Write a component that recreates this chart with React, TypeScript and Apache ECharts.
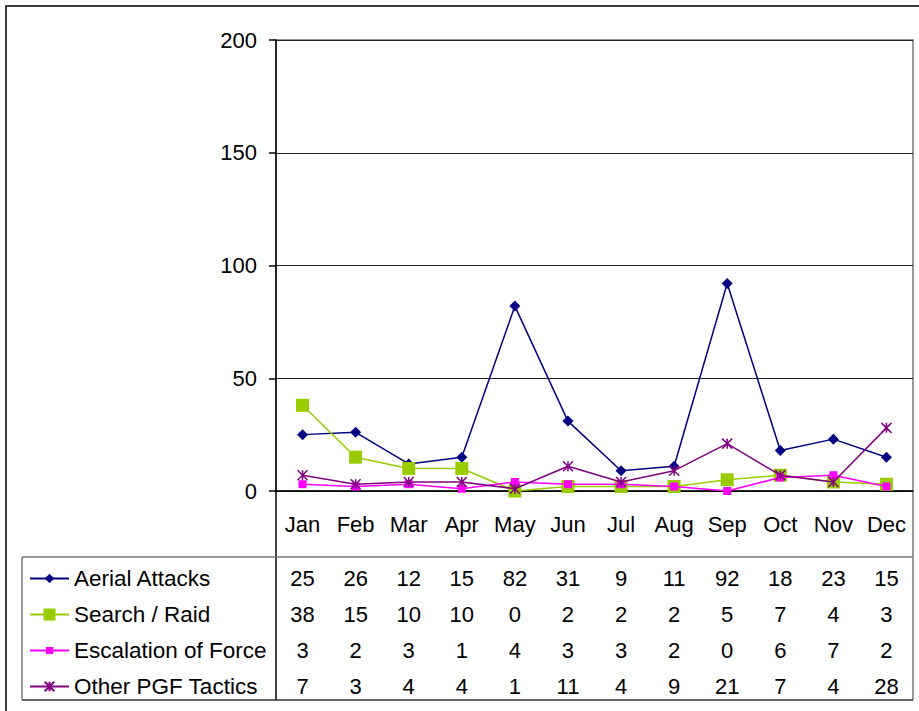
import React, { useEffect, useRef } from "react";
import * as echarts from "echarts";

const months = ["Jan", "Feb", "Mar", "Apr", "May", "Jun", "Jul", "Aug", "Sep", "Oct", "Nov", "Dec"];
const seriesNames = ["Aerial Attacks", "Search / Raid", "Escalation of Force", "Other PGF Tactics"];
const aerialAttacks = [25, 26, 12, 15, 82, 31, 9, 11, 92, 18, 23, 15];
const searchRaid = [38, 15, 10, 10, 0, 2, 2, 2, 5, 7, 4, 3];
const escalationOfForce = [3, 2, 3, 1, 4, 3, 3, 2, 0, 6, 7, 2];
const otherPgfTactics = [7, 3, 4, 4, 1, 11, 4, 9, 21, 7, 4, 28];
const yTicks = [0, 50, 100, 150, 200];

const FONT = "'Liberation Sans', Arial, sans-serif";
const STAR = "path://M0,0L10,10M10,0L0,10M5,0L5,10";

export default function App() {
  const ref = useRef<HTMLDivElement>(null);
  useEffect(() => {
    document.body.style.margin = "0";
    const chart = echarts.init(ref.current!, null, { renderer: "svg", width: 919, height: 711 });
    const rows = [aerialAttacks, searchRaid, escalationOfForce, otherPgfTactics];
    const rowCenters = [578, 614, 650, 686];
    const axisY = 491;
    const colors = ["#000080", "#99CC00", "#FF00FF", "#800080"];
    const symbols = ["diamond", "rect", "rect", STAR];
    const symbolSizes = [11, 13, 8, 10];
    const legendItemHeights = [12, 15, 9, 12];

    const tableAxes = rows.map((row, i) => ({
      type: "category",
      gridIndex: 0,
      position: "bottom",
      data: months,
      boundaryGap: true,
      axisLine: { show: false },
      axisTick: { show: false },
      splitLine: { show: false },
      axisLabel: {
        interval: 0,
        margin: rowCenters[i] - axisY,
        verticalAlign: "middle",
        fontSize: 22,
        fontFamily: FONT,
        color: "#000",
        formatter: (_v: string, idx: number) => String(row[idx]),
      },
    }));

    const option: any = {
      animation: false,
      backgroundColor: "#fff",
      grid: {
        left: 276,
        top: 40,
        right: 6,
        bottom: 711 - axisY,
        show: true,
        borderColor: "#999",
        borderWidth: 2,
        containLabel: false,
      },
      xAxis: [
        {
          type: "category",
          data: months,
          boundaryGap: true,
          position: "bottom",
          axisLine: { show: true, lineStyle: { color: "#000", width: 1.5 } },
          axisTick: { show: false },
          axisLabel: {
            interval: 0,
            margin: 524 - axisY,
            verticalAlign: "middle",
            fontSize: 22,
            fontFamily: FONT,
            color: "#000",
          },
        },
        ...tableAxes,
      ],
      yAxis: {
        type: "value",
        min: 0,
        max: 200,
        interval: 50,
        axisLine: { show: true, lineStyle: { color: "#000", width: 1.5 } },
        axisTick: { show: true, length: 7, lineStyle: { color: "#000", width: 1.5 } },
        splitLine: { show: true, lineStyle: { color: "#222", width: 1 } },
        axisLabel: {
          margin: 19,
          fontSize: 22,
          fontFamily: FONT,
          color: "#000",
          formatter: (v: number) => (yTicks.includes(v) ? String(v) : ""),
        },
      },
      legend: seriesNames.map((name, i) => ({
        data: [name],
        left: 29,
        top: rowCenters[i] - 11,
        padding: 0,
        itemWidth: 39,
        itemHeight: legendItemHeights[i],
        textStyle: { fontSize: 22.5, fontFamily: FONT, color: "#000" },
        selectedMode: false,
      })),
      series: rows.map((row, i) => ({
        name: seriesNames[i],
        type: "line",
        xAxisIndex: 0,
        data: row,
        symbol: symbols[i],
        symbolSize: symbolSizes[i],
        showAllSymbol: true,
        lineStyle: { color: colors[i], width: 1.5 },
        itemStyle: {
          color: colors[i],
          borderColor: colors[i],
          borderWidth: i === 3 ? 1.5 : 0,
        },
        z: 2 + i,
      })),
      graphic: [
        {
          type: "rect",
          shape: { x: 6, y: 6, width: 930, height: 720 },
          style: { fill: "none", stroke: "#000", lineWidth: 1.5 },
          silent: true,
        },
        {
          type: "line",
          shape: { x1: 913, y1: 40, x2: 913, y2: 700 },
          style: { stroke: "#999", lineWidth: 2 },
          silent: true,
        },
        {
          type: "line",
          shape: { x1: 276, y1: 491, x2: 276, y2: 700 },
          style: { stroke: "#000", lineWidth: 1.5 },
          silent: true,
        },
        {
          type: "line",
          shape: { x1: 22, y1: 557, x2: 913, y2: 557 },
          style: { stroke: "#777", lineWidth: 1.5 },
          silent: true,
        },
        {
          type: "line",
          shape: { x1: 22, y1: 700, x2: 913, y2: 700 },
          style: { stroke: "#333", lineWidth: 1.5 },
          silent: true,
        },
        {
          type: "line",
          shape: { x1: 22, y1: 557, x2: 22, y2: 700 },
          style: { stroke: "#777", lineWidth: 1.5 },
          silent: true,
        },
      ],
    };
    chart.setOption(option);
    return () => chart.dispose();
  }, []);
  return <div ref={ref} style={{ width: 919, height: 711 }} />;
}
